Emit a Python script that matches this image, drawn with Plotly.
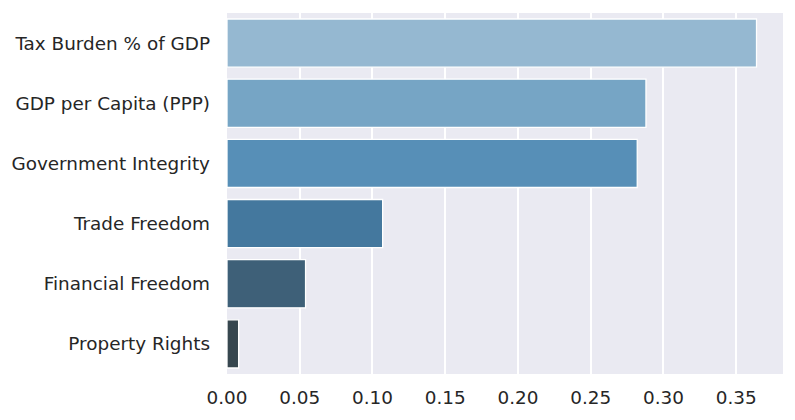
import plotly.graph_objects as go

categories = ["Tax Burden % of GDP", "GDP per Capita (PPP)", "Government Integrity",
              "Trade Freedom", "Financial Freedom", "Property Rights"]
values = [0.364, 0.288, 0.282, 0.107, 0.054, 0.008]
colors = ["#95b8d1", "#76a5c5", "#578fb7", "#44789e", "#3e6078", "#37474f"]
xticks = [0.0, 0.05, 0.10, 0.15, 0.20, 0.25, 0.30, 0.35]

fig = go.Figure(go.Bar(
    x=values, y=categories, orientation="h",
    marker=dict(color=colors, line=dict(color="white", width=1.3)),
    width=0.8,
))

fig.update_layout(
    width=795, height=420,
    margin=dict(l=219, r=20, t=5, b=54),
    paper_bgcolor="white", plot_bgcolor="#EAEAF2",
    font=dict(family="DejaVu Sans", size=18.4, color="#262626"),
    showlegend=False,
    bargap=0.2,
)
fig.update_xaxes(range=[0, max(values) * 1.05], tickvals=xticks,
                 ticktext=[f"{t:.2f}" for t in xticks],
                 showgrid=True, gridcolor="white", gridwidth=1.6,
                 zeroline=False, showline=False, ticks="", ticklabelstandoff=11,
                 automargin=False)
fig.update_yaxes(categoryorder="array", categoryarray=categories,
                 autorange=False, range=[len(categories) - 0.5, -0.5],
                 showgrid=False,
                 zeroline=False, showline=False, ticks="", ticklabelstandoff=16,
                 automargin=False)

fig.write_html("out.html")
